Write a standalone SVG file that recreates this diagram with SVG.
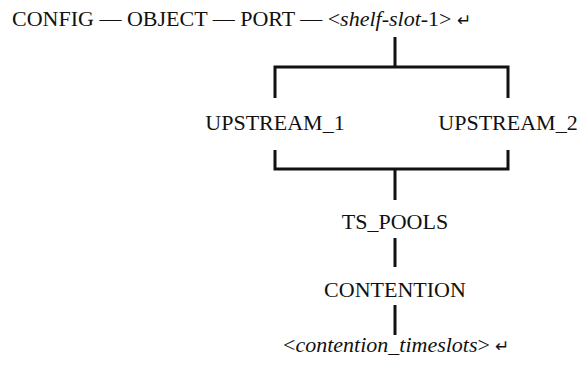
<svg xmlns="http://www.w3.org/2000/svg" width="581" height="368" viewBox="0 0 581 368">
<style>
text{font-family:"Liberation Serif","Times New Roman",serif;font-size:22px;fill:#111}
.i{font-style:italic}
.c{text-anchor:middle}
.a{font-size:17px}
.ln{stroke:#111;stroke-width:3;fill:none}
</style>
<rect width="581" height="368" fill="#fff"/>
<g id="header"><text x="12" y="26">CONFIG — OBJECT — PORT — &lt;<tspan class="i">shelf-slot</tspan>-1&gt; <tspan class="a">↵</tspan></text></g>
<g id="upstream1"><text class="c" x="275" y="130">UPSTREAM_1</text></g>
<g id="upstream2"><text class="c" x="508" y="130">UPSTREAM_2</text></g>
<g id="tspools"><text class="c" x="395" y="229">TS_POOLS</text></g>
<g id="contention"><text class="c" x="395" y="297">CONTENTION</text></g>
<g id="timeslots"><text x="283" y="352">&lt;<tspan class="i">contention_timeslots</tspan>&gt; <tspan class="a">↵</tspan></text></g>
<g id="connectors">
<path class="ln" d="M395 37V67M275 98V67H508V98"/>
<path class="ln" d="M275 150V169H508V150M395 169V200"/>
<path class="ln" d="M395 238V267"/>
<path class="ln" d="M395 305V335"/>
</g>
</svg>
